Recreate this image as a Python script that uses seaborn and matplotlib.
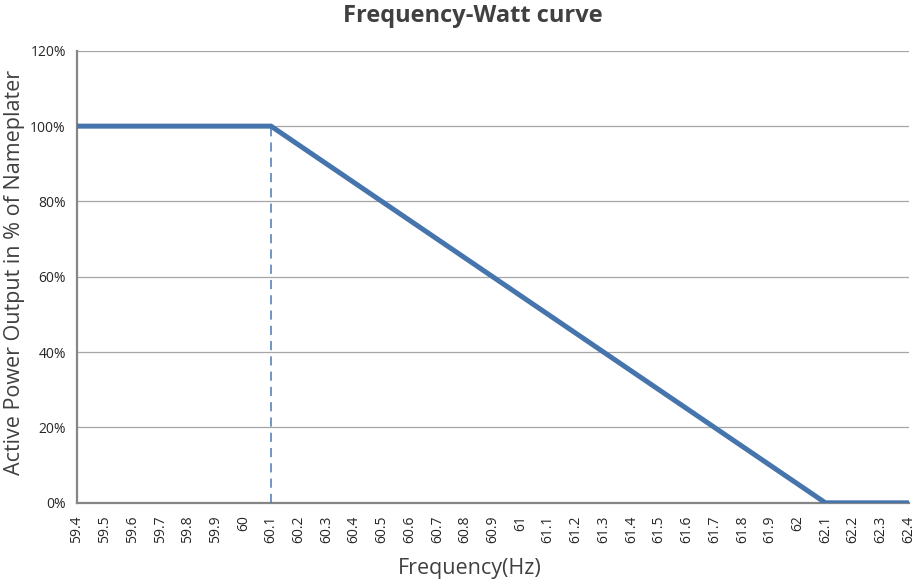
import matplotlib
matplotlib.use("Agg")
import matplotlib.pyplot as plt
import seaborn as sns
import pandas as pd
from matplotlib.ticker import PercentFormatter

# Frequency-Watt breakpoints (Hz, % of nameplate)
freq_points = [59.4, 60.1, 62.1, 62.4]
power_points = [100, 100, 0, 0]

# Frequency axis labels
freq_ticks = [59.4, 59.5, 59.6, 59.7, 59.8, 59.9, 60.0, 60.1, 60.2, 60.3, 60.4,
              60.5, 60.6, 60.7, 60.8, 60.9, 61.0, 61.1, 61.2, 61.3, 61.4, 61.5,
              61.6, 61.7, 61.8, 61.9, 62.0, 62.1, 62.2, 62.3, 62.4]
freq_labels = ["59.4", "59.5", "59.6", "59.7", "59.8", "59.9", "60", "60.1",
               "60.2", "60.3", "60.4", "60.5", "60.6", "60.7", "60.8", "60.9",
               "61", "61.1", "61.2", "61.3", "61.4", "61.5", "61.6", "61.7",
               "61.8", "61.9", "62", "62.1", "62.2", "62.3", "62.4"]
power_ticks = [0, 20, 40, 60, 80, 100, 120]

# Frequency where curtailment begins
knee_freq = 60.1
knee_power = 100

sns.set_theme(style="white")
plt.rcParams["font.family"] = ["Open Sans", "DejaVu Sans"]

line_color = "#4674AC"
grid_color = "#A6A6A6"
axis_color = "#868686"

df = pd.DataFrame({"Frequency": freq_points, "Power": power_points})

fig, ax = plt.subplots(figsize=(9.21, 5.84), dpi=100)
fig.subplots_adjust(left=0.0836, right=0.9865, top=0.913, bottom=0.139)

sns.lineplot(data=df, x="Frequency", y="Power", ax=ax, color=line_color,
             linewidth=3.6, solid_capstyle="round", solid_joinstyle="miter",
             zorder=4)

ax.vlines(knee_freq, 0, knee_power, colors="#4A78B4", linestyles=(0, (6, 4)),
          linewidth=1.1, zorder=3)

ax.set_xlim(freq_ticks[0], freq_ticks[-1])
ax.set_ylim(power_ticks[0], power_ticks[-1])
ax.set_xticks(freq_ticks)
ax.set_xticklabels(freq_labels, rotation=90, fontsize=10, color="#262626")
ax.set_yticks(power_ticks)
ax.yaxis.set_major_formatter(PercentFormatter(decimals=0))
ax.tick_params(axis="y", labelsize=10, labelcolor="#262626", length=5,
               width=1, color=axis_color, direction="out", pad=3)
ax.tick_params(axis="x", length=5, width=1, color=axis_color,
               direction="out", pad=4)

ax.grid(axis="y", color=grid_color, linewidth=0.9)
ax.grid(axis="x", visible=False)
for side in ("top", "right"):
    ax.spines[side].set_visible(False)
for side in ("left", "bottom"):
    ax.spines[side].set_color(axis_color)
    ax.spines[side].set_linewidth(1.6)

fig.suptitle("Frequency-Watt curve", x=0.513, y=0.973, va="center",
             fontsize=17, fontweight="bold", color="#404040")
ax.set_xlabel("Frequency(Hz)", fontsize=15.5, color="#404040")
ax.xaxis.set_label_coords(0.472, -0.122)
ax.set_ylabel("Active Power Output in % of Nameplater", fontsize=15.5,
              color="#404040")
ax.yaxis.set_label_coords(-0.062, 0.51)

fig.savefig("out.png", dpi=100)
